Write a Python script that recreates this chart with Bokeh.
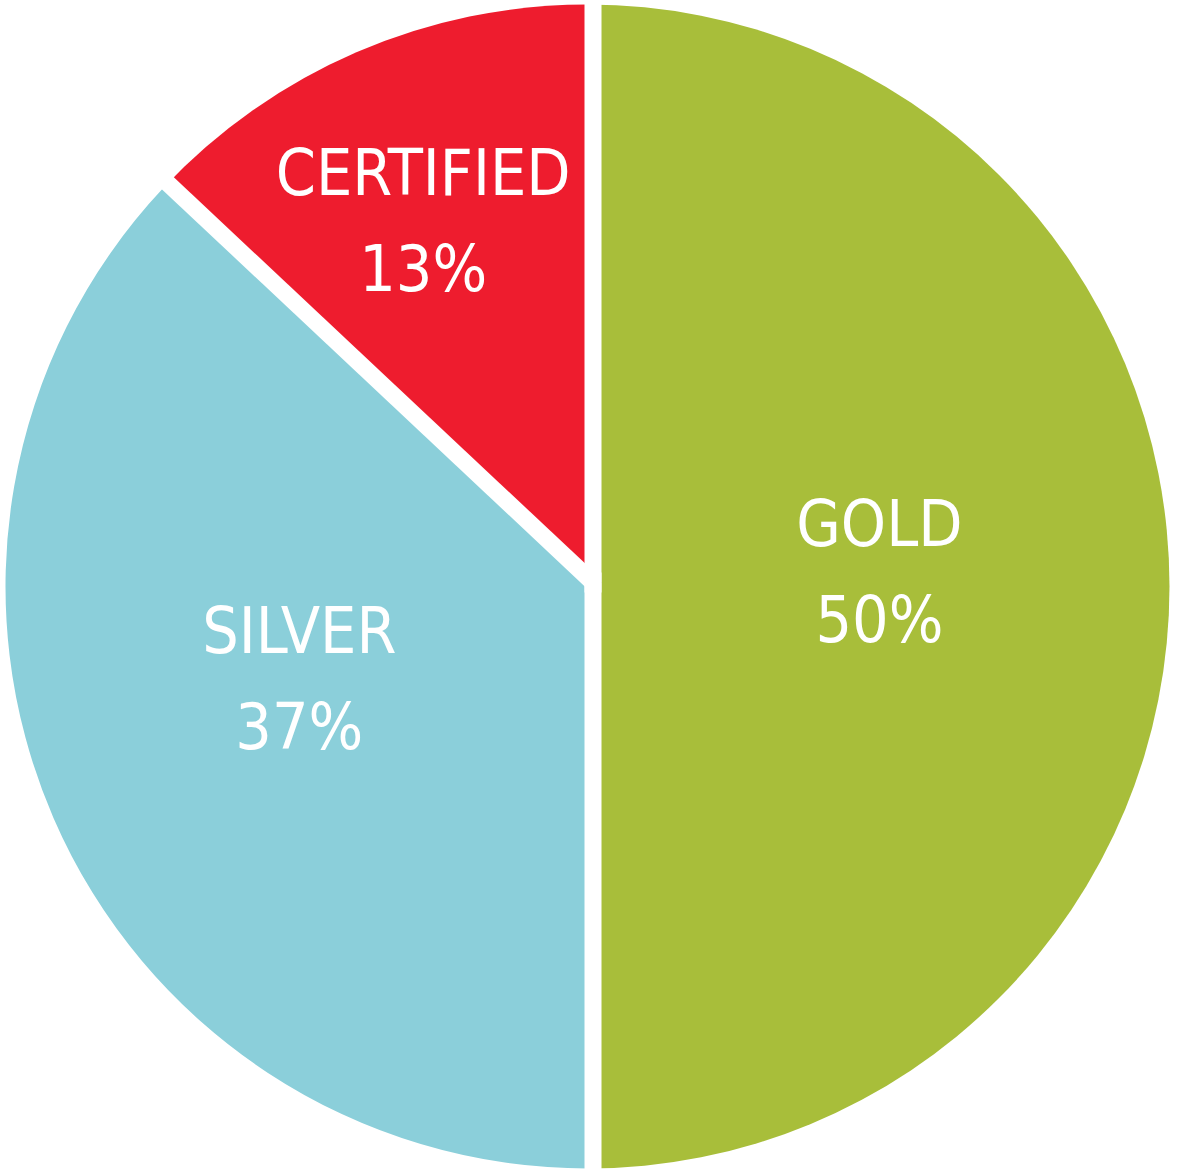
import math
from bokeh.plotting import figure
from bokeh.models import ColumnDataSource, Range1d
from bokeh.core.properties import value
from bokeh.embed import file_html
from bokeh.resources import INLINE

# ---- data ----
categories = ["GOLD", "SILVER", "CERTIFIED"]
shares = [50, 37, 13]
colors = ["#A8BE3A", "#8BCFDA", "#EE1C2E"]

# ---- layout ----
W, H = 1178, 1174
CX, CY = 587, H - 586          # pie centre in data units (1 unit = 1 px)
R = 582
SEP_DX, SEP_DY = 5.5, 4        # separator lines offset from centre
SEP_W = 17
label_angle_deg = [2.5, 198.1, 114.3]
label_rfrac = [0.502, 0.521, 0.686]
FONT = "DejaVu Sans Condensed"
FONT_SIZE = "64px"
NAME_DY = 50
PCT_DY = -46

# angles (clockwise from 12 o'clock)
total = float(sum(shares))
starts, ends = [], []
cum = 0.0
for s in shares:
    a0 = math.pi / 2 - 2 * math.pi * cum / total
    cum += s
    a1 = math.pi / 2 - 2 * math.pi * cum / total
    starts.append(a0)
    ends.append(a1)

src = ColumnDataSource(dict(cat=categories, share=shares, color=colors,
                            start=starts, end=ends))

p = figure(width=W, height=H, x_range=Range1d(0, W), y_range=Range1d(0, H),
           output_backend="svg", toolbar_location=None, min_border=0,
           background_fill_color="white", border_fill_color="white")
p.axis.visible = False
p.grid.visible = False
p.outline_line_color = None

p.wedge(x=CX, y=CY, radius=R, start_angle="start", end_angle="end",
        direction="clock", fill_color="color", line_color=None, source=src)

# white separators along each slice boundary
sx, sy = CX + SEP_DX, CY + SEP_DY
x0s, y0s, x1s, y1s = [], [], [], []
for a in starts:
    x0s.append(sx)
    y0s.append(sy)
    x1s.append(sx + (R + 40) * math.cos(a))
    y1s.append(sy + (R + 40) * math.sin(a))
p.segment(x0=x0s, y0=y0s, x1=x1s, y1=y1s, line_color="white",
          line_width=SEP_W, line_cap="butt")
p.segment(x0=[sx], y0=[sy + 10], x1=[sx], y1=[sy - 10], line_color="white",
          line_width=SEP_W, line_cap="butt")

# labels
lx, ly_name, ly_pct, pct_txt = [], [], [], []
for ang, fr, s in zip(label_angle_deg, label_rfrac, shares):
    a = math.radians(ang)
    bx = CX + fr * R * math.cos(a)
    by = CY + fr * R * math.sin(a)
    lx.append(bx)
    ly_name.append(by + NAME_DY)
    ly_pct.append(by + PCT_DY)
    pct_txt.append(f"{s}%")

p.text(x=lx, y=ly_name, text=categories, text_color="white",
       text_font=value(FONT), text_font_size=FONT_SIZE,
       text_align="center", text_baseline="alphabetic")
p.text(x=lx, y=ly_pct, text=pct_txt, text_color="white",
       text_font=value(FONT), text_font_size=FONT_SIZE,
       text_align="center", text_baseline="alphabetic")

open("out.html", "w").write(file_html(p, INLINE))
